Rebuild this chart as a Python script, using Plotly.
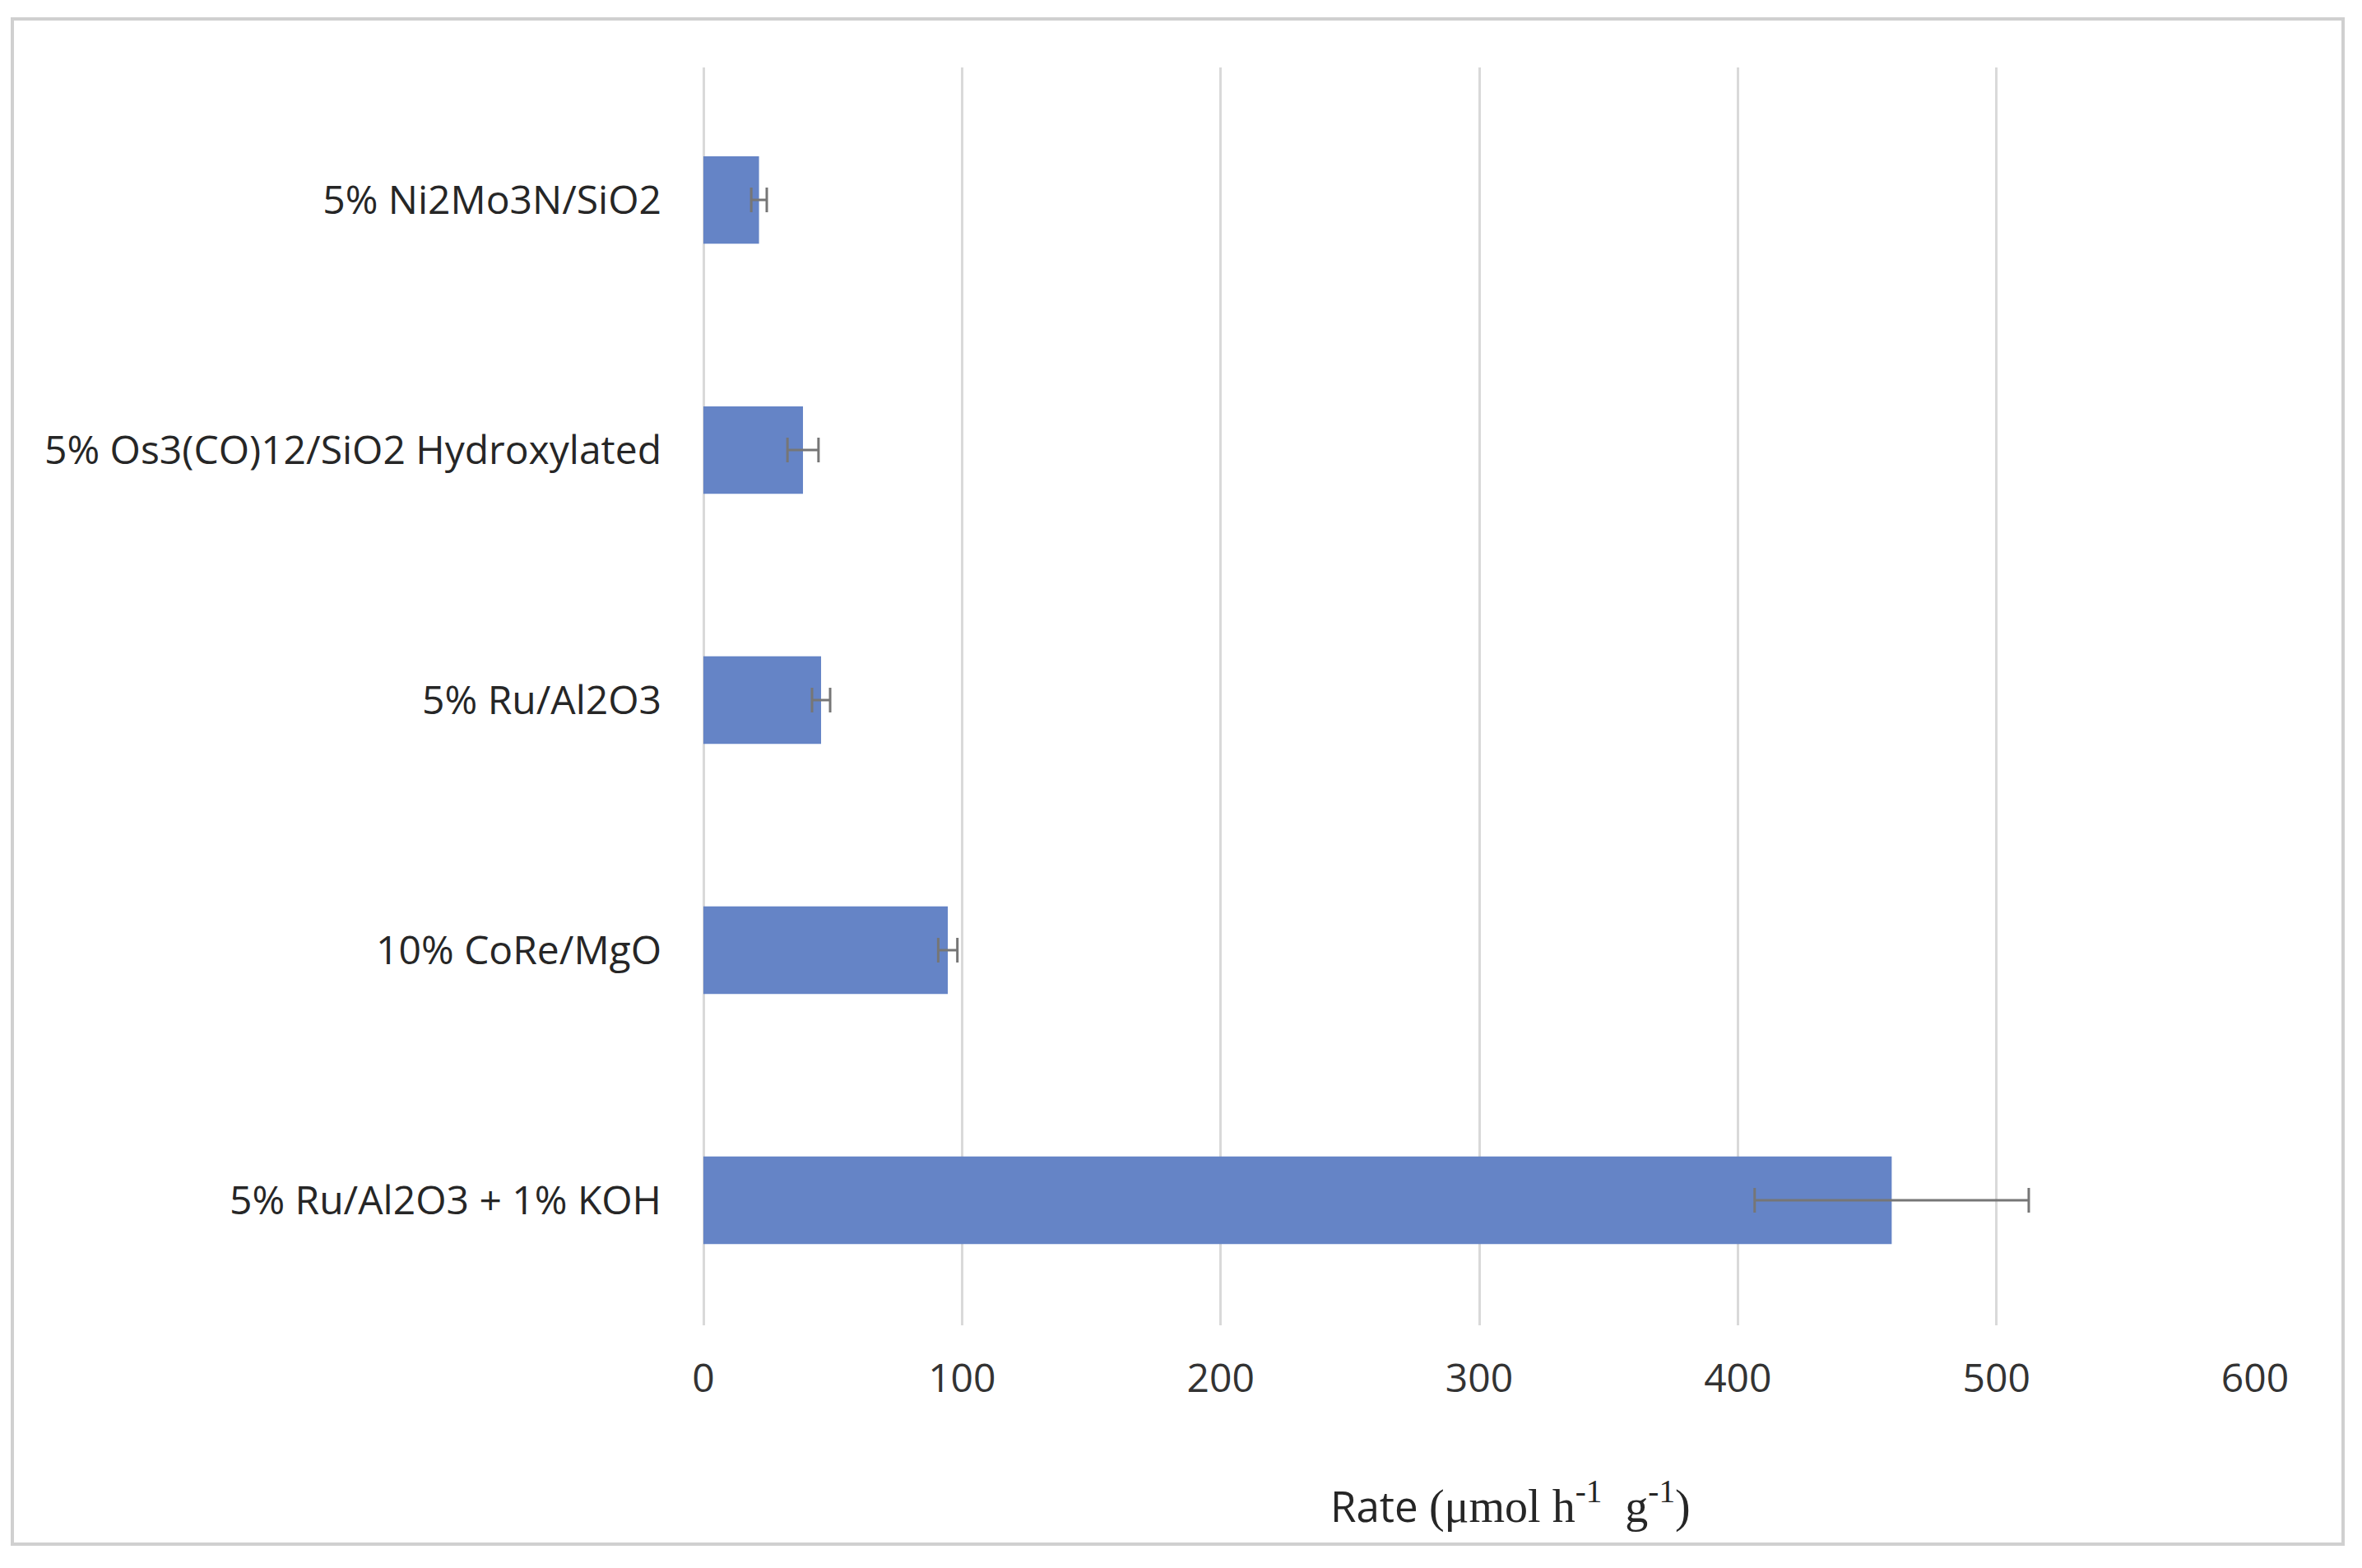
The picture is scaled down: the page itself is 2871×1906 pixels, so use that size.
import plotly.graph_objects as go

categories = [
    "5% Ni2Mo3N/SiO2",
    "5% Os3(CO)12/SiO2 Hydroxylated",
    "5% Ru/Al2O3",
    "10% CoRe/MgO",
    "5% Ru/Al2O3 + 1% KOH",
]
rates = [21.5, 38.5, 45.5, 94.5, 459.5]
errors = [3, 6, 3.5, 3.7, 53]
x_ticks = [0, 100, 200, 300, 400, 500, 600]

# page has an 8px body margin; figure sized to fit inside the window
W, H = 2855, 1890
OFF = 8
L, R, T, B = 855 - OFF, W - (2741 - OFF), 82 - OFF, H - (1611 - OFF)

fig = go.Figure()
fig.add_trace(go.Bar(
    y=categories,
    x=rates,
    orientation="h",
    marker=dict(color="#6584c6", line=dict(width=0)),
    error_x=dict(type="data", array=errors, visible=True,
                 color="#767676", thickness=3, width=15),
    width=0.35,
))

fig.update_layout(
    width=W, height=H,
    paper_bgcolor="white", plot_bgcolor="white",
    margin=dict(l=L, r=R, t=T, b=B, autoexpand=False),
    showlegend=False,
    font=dict(family="Open Sans", size=48, color="#262626"),
    xaxis=dict(
        range=[0, 600], tickvals=x_ticks, showgrid=True,
        gridcolor="#d9d9d9", gridwidth=3, zeroline=True,
        zerolinecolor="#d9d9d9", zerolinewidth=3,
        showline=False, ticks="", ticklabelstandoff=32,
        tickfont=dict(size=48, color="#333333"),
    ),
    yaxis=dict(
        categoryorder="array", categoryarray=categories,
        range=[4.5, -0.53], showgrid=False, zeroline=False,
        showline=False, ticks="", ticklabelstandoff=50,
        tickfont=dict(size=48, color="#262626"),
    ),
)

plot_w = W - L - R
plot_h = H - T - B
def px_x(p):
    return (p - OFF - L) / plot_w
def px_y(p):
    return (H - B - (p - OFF)) / plot_h

fig.add_shape(type="rect", xref="paper", yref="paper",
              x0=px_x(15), x1=px_x(2848), y0=px_y(1877), y1=px_y(23),
              line=dict(color="#d0d0d0", width=4), layer="below")

fig.add_annotation(
    xref="paper", yref="paper", x=px_x(1836), y=px_y(1828),
    xanchor="center", yanchor="middle", showarrow=False,
    text="Rate <span style=\"font-family:'Liberation Serif';font-size:56px\">(μmol h<sup>-1</sup>  g<sup>-1</sup>)</span>",
    font=dict(family="Open Sans", size=51, color="#262626"),
)

fig.write_html("out.html")
